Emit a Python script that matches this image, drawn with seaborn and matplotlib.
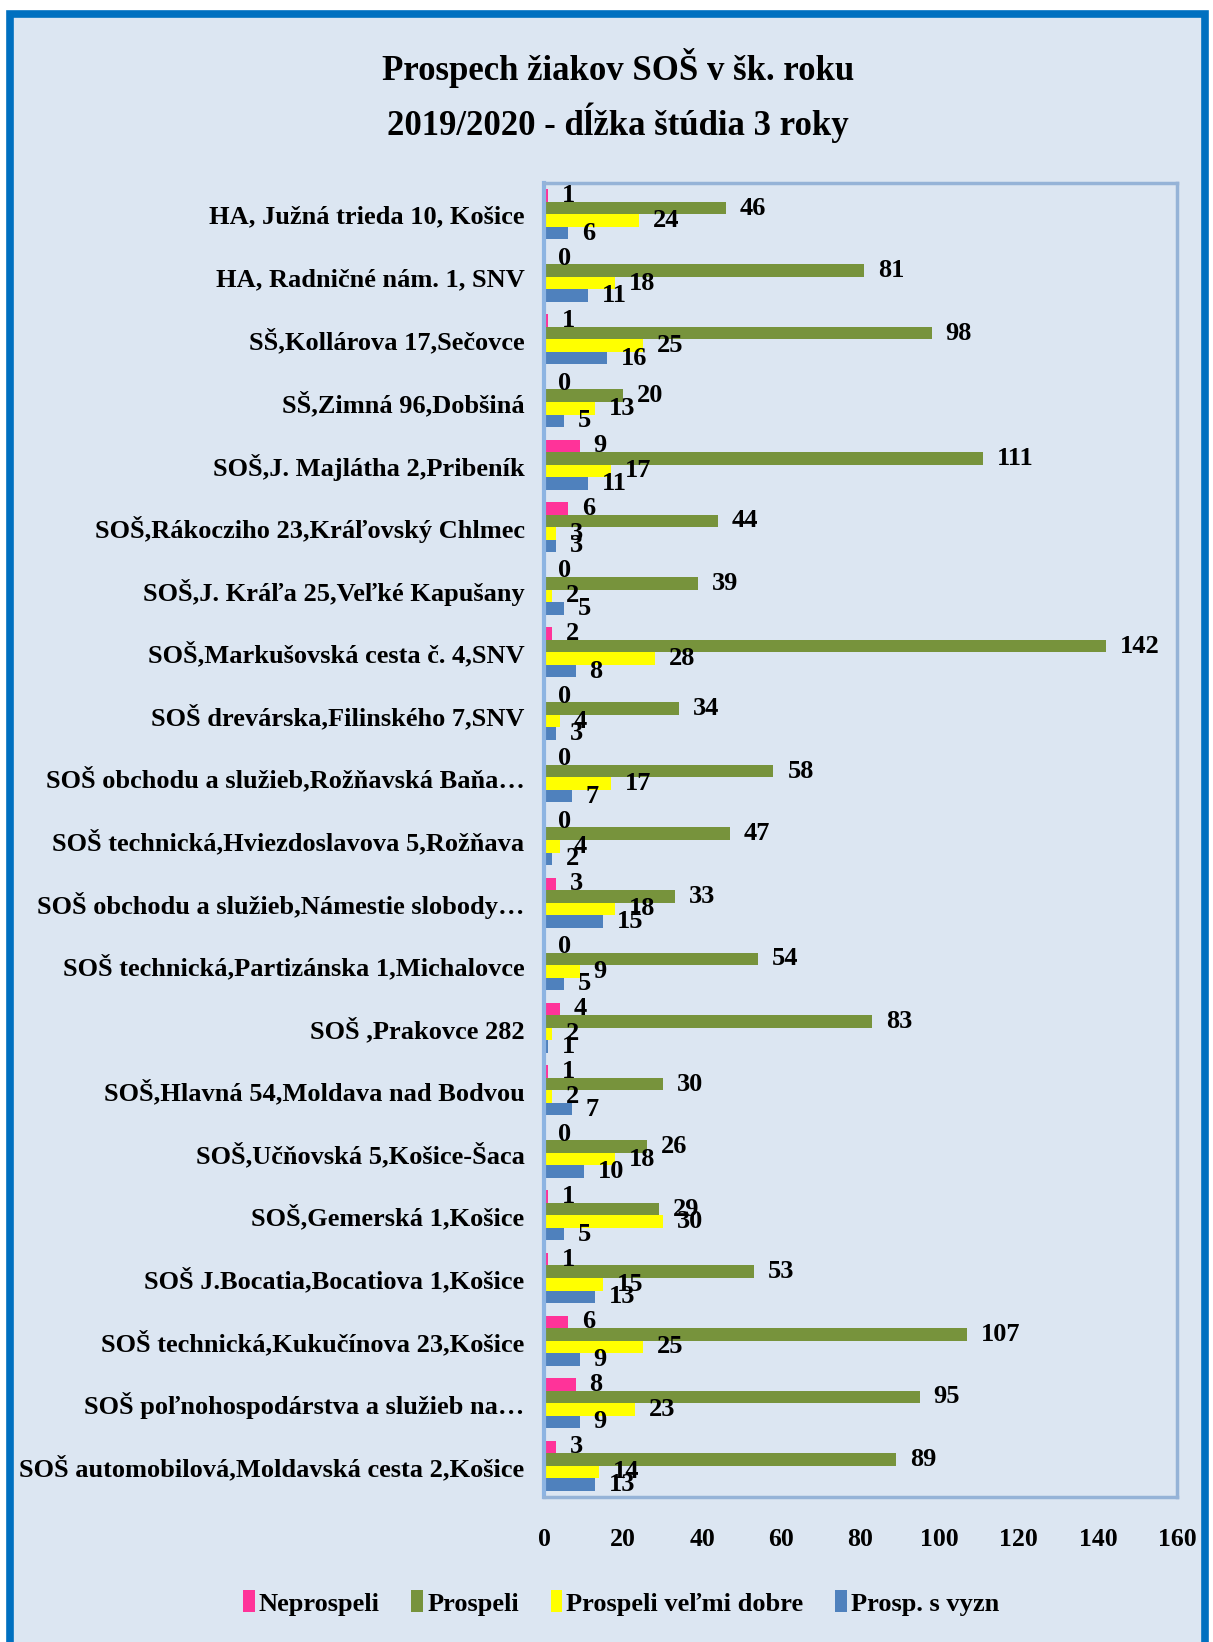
import matplotlib
matplotlib.use("Agg")
import matplotlib.pyplot as plt
import matplotlib.patches as mpatches
import seaborn as sns
import pandas as pd

schools = [
    "HA, Južná trieda 10, Košice",
    "HA, Radničné nám. 1, SNV",
    "SŠ,Kollárova 17,Sečovce",
    "SŠ,Zimná 96,Dobšiná",
    "SOŠ,J. Majlátha 2,Pribeník",
    "SOŠ,Rákocziho 23,Kráľovský Chlmec",
    "SOŠ,J. Kráľa 25,Veľké Kapušany",
    "SOŠ,Markušovská cesta č. 4,SNV",
    "SOŠ drevárska,Filinského 7,SNV",
    "SOŠ obchodu a služieb,Rožňavská Baňa…",
    "SOŠ technická,Hviezdoslavova 5,Rožňava",
    "SOŠ obchodu a služieb,Námestie slobody…",
    "SOŠ technická,Partizánska 1,Michalovce",
    "SOŠ ,Prakovce 282",
    "SOŠ,Hlavná 54,Moldava nad Bodvou",
    "SOŠ,Učňovská 5,Košice-Šaca",
    "SOŠ,Gemerská 1,Košice",
    "SOŠ J.Bocatia,Bocatiova 1,Košice",
    "SOŠ technická,Kukučínova 23,Košice",
    "SOŠ poľnohospodárstva a služieb na…",
    "SOŠ automobilová,Moldavská cesta 2,Košice",
]

neprospeli = [1, 0, 1, 0, 9, 6, 0, 2, 0, 0, 0, 3, 0, 4, 1, 0, 1, 1, 6, 8, 3]
prospeli = [46, 81, 98, 20, 111, 44, 39, 142, 34, 58, 47, 33, 54, 83, 30, 26, 29, 53, 107, 95, 89]
velmi_dobre = [24, 18, 25, 13, 17, 3, 2, 28, 4, 17, 4, 18, 9, 2, 2, 18, 30, 15, 25, 23, 14]
s_vyzn = [6, 11, 16, 5, 11, 3, 5, 8, 3, 7, 2, 15, 5, 1, 7, 10, 5, 13, 9, 9, 13]

series_names = ["Neprospeli", "Prospeli", "Prospeli veľmi dobre", "Prosp. s vyzn"]
series_colors = ["#FF3399", "#77933C", "#FFFF00", "#4F81BD"]
x_ticks = [0, 20, 40, 60, 80, 100, 120, 140, 160]

title_line1 = "Prospech žiakov SOŠ v šk. roku"
title_line2 = "2019/2020 - dĺžka štúdia 3 roky"

rows = []
for name, vals in zip(series_names, [neprospeli, prospeli, velmi_dobre, s_vyzn]):
    for s, v in zip(schools, vals):
        rows.append({"school": s, "value": v, "series": name})
df = pd.DataFrame(rows)

sns.set_theme(style="white")
plt.rcParams["font.family"] = ["Liberation Serif", "DejaVu Serif"]
plt.rcParams["font.weight"] = "bold"

BG = "#DCE6F2"
fig = plt.figure(figsize=(12.13, 16.42), dpi=100)
fig.patch.set_facecolor("white")

W, H = 1213, 1642
border = mpatches.Rectangle((10 / W, -0.02), (1205 - 10) / W, 1 - 14 / H + 0.02,
                            transform=fig.transFigure, facecolor=BG,
                            edgecolor="#0070C0", linewidth=5.5, zorder=-5)
fig.patches.append(border)

ax = fig.add_axes([544 / W, 1 - 1497 / H, (1177 - 544) / W, (1497 - 183) / H])
ax.set_zorder(1)
ax.set_facecolor(BG)

sns.barplot(data=df, y="school", x="value", hue="series", order=schools,
            hue_order=series_names, palette=series_colors, orient="h",
            width=0.8, saturation=1, errorbar=None, legend=False, ax=ax,
            edgecolor="none", linewidth=0)

for cont in ax.containers:
    ax.bar_label(cont, labels=[f"{int(b.get_width())}" for b in cont],
                 padding=10, fontsize=19, fontweight="bold", color="black")

ax.set_xlim(0, 160)
ax.set_xticks(x_ticks)
ax.set_xticklabels([str(t) for t in x_ticks])
ax.set_xlabel("")
ax.set_ylabel("")
ax.tick_params(axis="x", length=0, pad=22, labelsize=18.5, labelcolor="black")
ax.tick_params(axis="y", length=0, pad=14, labelsize=19, labelcolor="black")
for lab in ax.get_xticklabels() + ax.get_yticklabels():
    lab.set_fontweight("bold")
for side, sp in ax.spines.items():
    sp.set_visible(True)
    sp.set_color("#95B3D7")
    sp.set_linewidth(2.5)
ax.spines["left"].set_color("#8DB4E2")
ax.spines["left"].set_linewidth(3)

fig.text(618 / W, 1 - 68 / H, title_line1, ha="center", va="center",
         fontsize=25, fontweight="bold", color="black")
fig.text(618 / W, 1 - 123 / H, title_line2, ha="center", va="center",
         fontsize=25, fontweight="bold", color="black")

handles = [mpatches.Patch(facecolor=c, edgecolor="none", label=n)
           for n, c in zip(series_names, series_colors)]
leg = fig.legend(handles=handles, loc="center", bbox_to_anchor=(621 / W, 1 - 1603 / H),
                 ncol=4, frameon=False, handlelength=0.45,
                 handleheight=0.9, handletextpad=0.15, columnspacing=1.2,
                 prop={"weight": "bold", "size": 19})
for t in leg.get_texts():
    t.set_color("black")

fig.savefig("out.png", dpi=100, facecolor=fig.get_facecolor())
